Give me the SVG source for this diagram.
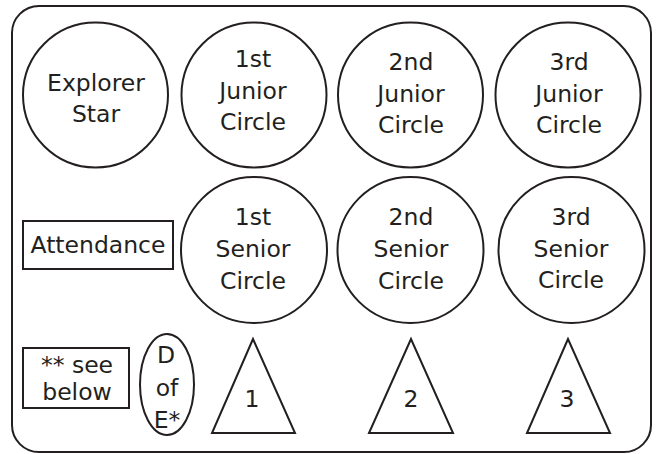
<svg xmlns="http://www.w3.org/2000/svg" width="659" height="454" viewBox="0 0 659 454">
<style>
.s{fill:#fff;stroke:#231f20;stroke-width:2}
text{font-family:"DejaVu Sans",sans-serif;font-size:23.5px;fill:#231f20;text-anchor:middle}
</style>
<rect x="0" y="0" width="659" height="454" fill="#fff"/>
<rect class="s" x="12" y="6" width="639" height="446" rx="27" ry="27"/>
<g id="explorer-star"><circle class="s" cx="95.5" cy="95" r="72.5"/><text x="96" y="91">Explorer</text><text x="96" y="122">Star</text></g>
<g id="junior1"><circle class="s" cx="254" cy="95" r="72.5"/><text x="253" y="67">1st</text><text x="253" y="99">Junior</text><text x="253" y="130">Circle</text></g>
<g id="junior2"><circle class="s" cx="410.5" cy="95" r="72.5"/><text x="411" y="70">2nd</text><text x="411" y="102">Junior</text><text x="411" y="133">Circle</text></g>
<g id="junior3"><circle class="s" cx="568" cy="95" r="72.5"/><text x="569" y="70">3rd</text><text x="569" y="102">Junior</text><text x="569" y="133">Circle</text></g>
<g id="attendance"><rect class="s" x="23" y="221" width="150" height="48"/><text x="98" y="253">Attendance</text></g>
<g id="senior1"><circle class="s" cx="254" cy="250" r="73"/><text x="253" y="225">1st</text><text x="253" y="257">Senior</text><text x="253" y="289">Circle</text></g>
<g id="senior2"><circle class="s" cx="410.5" cy="250" r="73"/><text x="411" y="225">2nd</text><text x="411" y="257">Senior</text><text x="411" y="289">Circle</text></g>
<g id="senior3"><circle class="s" cx="571.5" cy="250" r="73"/><text x="571" y="225">3rd</text><text x="571" y="257">Senior</text><text x="571" y="288">Circle</text></g>
<g id="see-below"><rect class="s" x="23" y="348" width="106" height="60"/><text x="77" y="373">** see</text><text x="77" y="400">below</text></g>
<g id="d-of-e"><ellipse class="s" cx="167" cy="384.5" rx="27" ry="50.5"/><text x="166" y="363">D</text><text x="167" y="396">of</text><text x="167" y="428">E*</text></g>
<g id="tri1"><polygon class="s" points="253,339 212,433 295,433"/><text x="252" y="407">1</text></g>
<g id="tri2"><polygon class="s" points="411,339 369,433 453,433"/><text x="411" y="407">2</text></g>
<g id="tri3"><polygon class="s" points="568,339 527,433 610,433"/><text x="567" y="407">3</text></g>
<g id="connectors"></g>
</svg>
